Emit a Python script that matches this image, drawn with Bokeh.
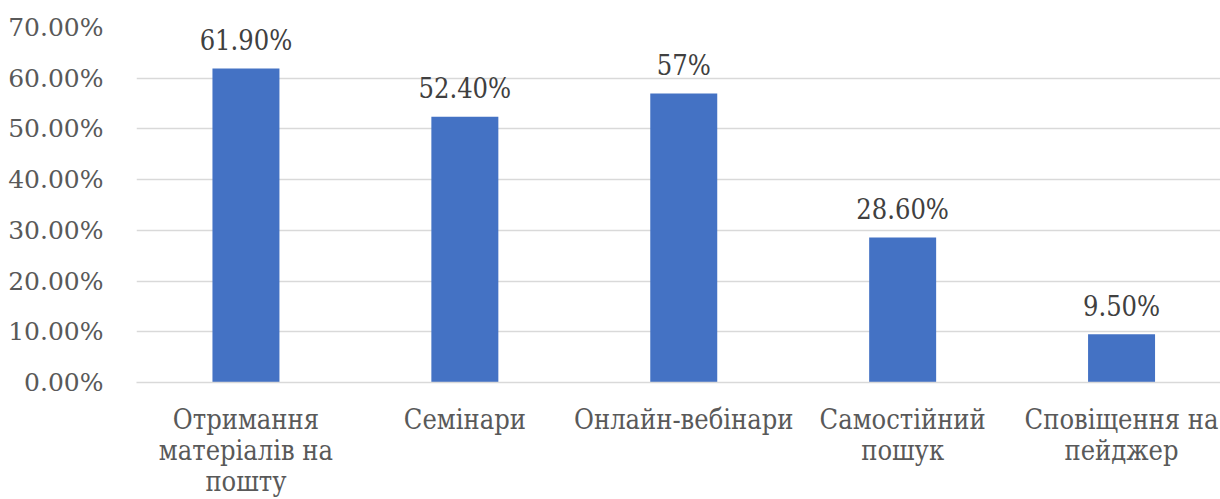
from bokeh.plotting import figure
from bokeh.models import Range1d, ColumnDataSource, FixedTicker
from bokeh.core.properties import value
from bokeh.embed import file_html
from bokeh.resources import INLINE

categories = ["Отримання\nматеріалів на\nпошту", "Семінари", "Онлайн-вебінари",
              "Самостійний\nпошук", "Сповіщення на\nпейджер"]
values = [61.9, 52.4, 57.0, 28.6, 9.5]
value_labels = ["61.90%", "52.40%", "57%", "28.60%", "9.50%"]
y_ticks = [0, 10, 20, 30, 40, 50, 60, 70]
y_tick_labels = ["0.00%", "10.00%", "20.00%", "30.00%", "40.00%", "50.00%", "60.00%", "70.00%"]

xs = list(range(len(categories)))
src = ColumnDataSource(dict(x=xs, top=values, lab=value_labels))

p = figure(width=1220, height=499, output_backend="svg", toolbar_location=None,
           x_range=Range1d(-0.5, 4.452), y_range=Range1d(0, 70),
           min_border_left=136, min_border_right=0, min_border_top=27, min_border_bottom=116)
p.outline_line_color = None
p.background_fill_color = "white"
p.border_fill_color = "white"

p.vbar(x="x", top="top", width=0.306, bottom=0, source=src, fill_color="#4472C4", line_color=None)
p.text(x="x", y="top", text="lab", source=src, text_align="center", text_baseline="alphabetic",
       y_offset=-28, text_font=value("DejaVu Serif Condensed"), text_font_size="27px", text_color="#404040")

# y axis
p.yaxis.ticker = FixedTicker(ticks=y_ticks)
p.yaxis.major_label_overrides = {t: l for t, l in zip(y_ticks, y_tick_labels)}
p.yaxis.axis_line_color = None
p.yaxis.major_tick_line_color = None
p.yaxis.minor_tick_line_color = None
p.yaxis.major_tick_out = 0
p.yaxis.major_label_standoff = 33
p.yaxis.major_label_text_font = "DejaVu Serif"
p.yaxis.major_label_text_font_size = "25px"
p.yaxis.major_label_text_color = "#595959"

# x axis
p.xaxis.ticker = FixedTicker(ticks=xs)
p.xaxis.major_label_overrides = {x: c for x, c in zip(xs, categories)}
p.xaxis.axis_line_color = "#d9d9d9"
p.xaxis.axis_line_width = 1.5
p.xaxis.major_tick_line_color = None
p.xaxis.minor_tick_line_color = None
p.xaxis.major_tick_out = 0
p.xaxis.major_label_standoff = 21
p.xaxis.major_label_text_font = "DejaVu Serif Condensed"
p.xaxis.major_label_text_font_size = "27px"
p.xaxis.major_label_text_color = "#595959"
p.xaxis.major_label_text_line_height = 1.0

p.xgrid.grid_line_color = None
p.ygrid.grid_line_color = "#d9d9d9"
p.ygrid.grid_line_width = 1.5

open("out.html", "w").write(file_html(p, INLINE))
